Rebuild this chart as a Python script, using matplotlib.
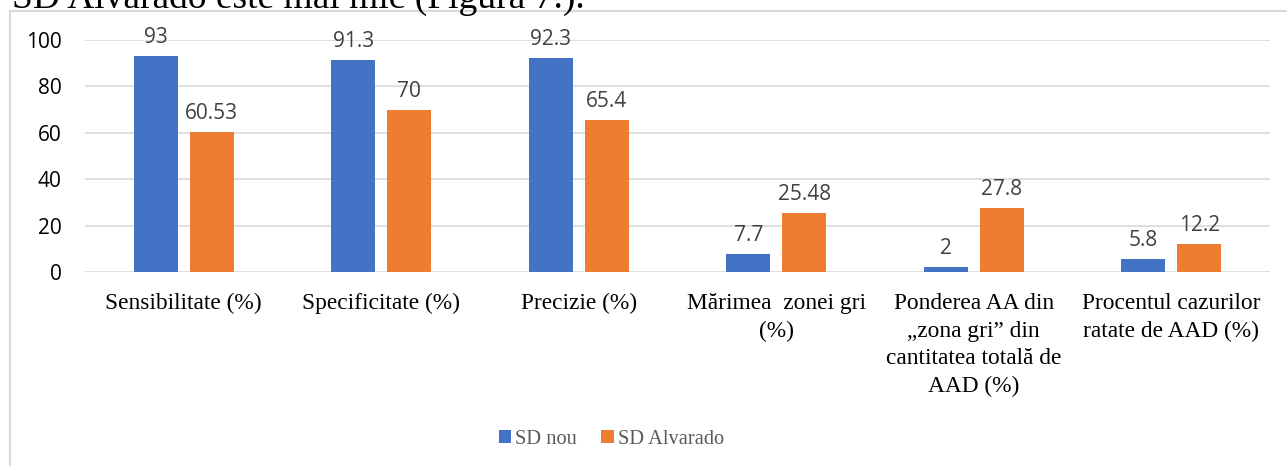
import matplotlib
matplotlib.use("Agg")
import matplotlib.pyplot as plt
import numpy as np
from matplotlib.patches import Rectangle

categories = ["Sensibilitate (%)", "Specificitate (%)", "Precizie (%)",
              "Mărimea  zonei gri\n(%)",
              "Ponderea AA din\n„zona gri” din\ncantitatea totală de\nAAD (%)",
              "Procentul cazurilor\nratate de AAD (%)"]
sd_nou = [93, 91.3, 92.3, 7.7, 2, 5.8]
sd_alvarado = [60.53, 70, 65.4, 25.48, 27.8, 12.2]
nou_labels = ["93", "91.3", "92.3", "7.7", "2", "5.8"]
alv_labels = ["60.53", "70", "65.4", "25.48", "27.8", "12.2"]
series_names = ["SD nou", "SD Alvarado"]
yticks = [0, 20, 40, 60, 80, 100]

W, H = 1287, 466
fig = plt.figure(figsize=(W / 100, H / 100), dpi=100)

# frame
fig.patches.append(Rectangle((10 / W, -0.1), 1.2, (H - 11) / H + 0.1, transform=fig.transFigure,
                             fill=False, edgecolor="#d9d9d9", linewidth=1.5))
# cropped text above
fig.text(12 / W, 1 - 8 / H, "SD Alvarado este mai mic (Figura 7.).", fontsize=27,
         family="Liberation Serif", va="baseline", ha="left", color="black")

left, right = 85 / W, 1270 / W
bottom, top = (H - 272) / H, (H - 40) / H
ax = fig.add_axes([left, bottom, right - left, top - bottom])

x = np.arange(len(categories))
bw = 44 / 197.5
gap = 12 / 197.5
c1, c2 = "#4472C4", "#ED7D31"
b1 = ax.bar(x - (bw + gap) / 2, sd_nou, bw, color=c1, zorder=3, label=series_names[0])
b2 = ax.bar(x + (bw + gap) / 2, sd_alvarado, bw, color=c2, zorder=3, label=series_names[1])

for bars, labs in ((b1, nou_labels), (b2, alv_labels)):
    for r, lab in zip(bars, labs):
        ax.annotate(lab, (r.get_x() + r.get_width() / 2, r.get_height()),
                    xytext=(0, 8), textcoords="offset pixels", ha="center", va="bottom",
                    fontsize=15, family="Open Sans", color="#404040")

ax.set_xlim(-0.5, len(categories) - 0.5)
ax.set_ylim(0, 100)
ax.set_yticks(yticks)
ax.set_yticklabels([str(v) for v in yticks], fontsize=15, family="Open Sans", color="black")
ax.yaxis.grid(True, color="#d9d9d9", linewidth=1.2, zorder=0)
ax.set_axisbelow(True)
ax.tick_params(axis="y", length=0, pad=17)
ax.tick_params(axis="x", length=0, pad=15)
ax.set_xticks(x)
ax.set_xticklabels(categories, fontsize=16.8, family="Liberation Serif", color="black",
                   linespacing=1.42, va="top")
for s in ax.spines.values():
    s.set_visible(False)

leg = fig.legend(handles=[b1, b2], labels=series_names, loc="center",
                 bbox_to_anchor=(0.475, 1 - 439 / H), ncol=2, frameon=False,
                 prop={"family": "Liberation Serif", "size": 14.7},
                 handlelength=0.6, handleheight=0.6, handletextpad=0.2, columnspacing=1.2)
for t in leg.get_texts():
    t.set_color("#595959")

fig.savefig("out.png", dpi=100, facecolor="white")
